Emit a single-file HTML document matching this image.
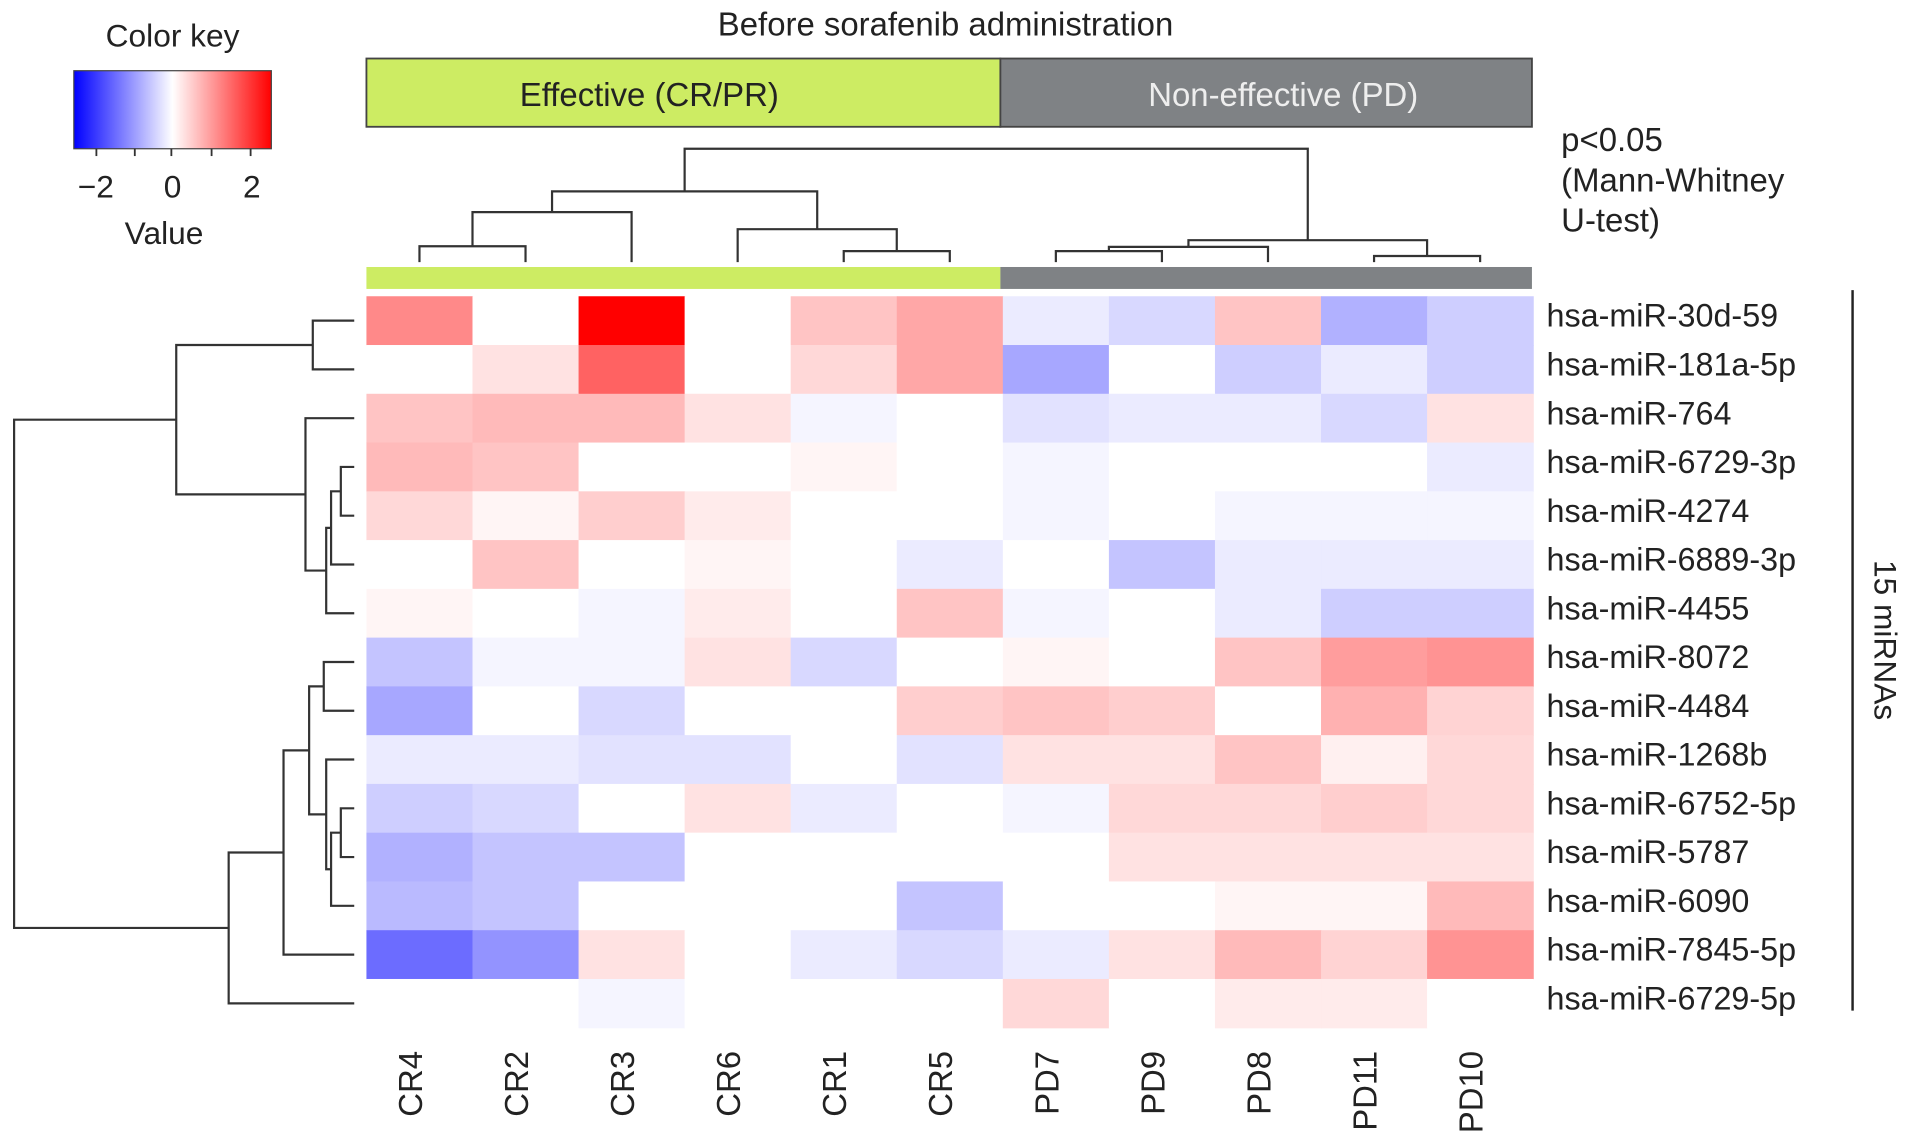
<!DOCTYPE html>
<html><head><meta charset="utf-8"><style>
html,body{margin:0;padding:0;background:#fff;}
svg{display:block;font-family:"Liberation Sans",Arial,sans-serif;}
</style></head><body>
<svg id="chart" width="1913" height="1146" viewBox="0 0 1568 940" xmlns="http://www.w3.org/2000/svg">
<defs><linearGradient id="kg" x1="0" x2="1" y1="0" y2="0">
<stop offset="0" stop-color="#0000ff"/><stop offset="0.5" stop-color="#ffffff"/><stop offset="1" stop-color="#ff0000"/></linearGradient></defs>
<g>
<text x="141" y="38" font-size="26" text-anchor="middle" fill="#222">Color key</text>
<rect x="60" y="58" width="162" height="64" fill="url(#kg)" stroke="#444" stroke-width="1"/>
<g stroke="#333" stroke-width="1.5"><line x1="78.5" y1="122" x2="78.5" y2="128"/><line x1="110" y1="122" x2="110" y2="128"/><line x1="140" y1="122" x2="140" y2="128"/><line x1="173" y1="122" x2="173" y2="128"/><line x1="205" y1="122" x2="205" y2="128"/></g>
<text x="78" y="162" font-size="26" text-anchor="middle" fill="#222">−2</text>
<text x="141" y="162" font-size="26" text-anchor="middle" fill="#222">0</text>
<text x="206" y="162" font-size="26" text-anchor="middle" fill="#222">2</text>
<text x="134" y="200" font-size="26" text-anchor="middle" fill="#222">Value</text>
</g>
<text x="775" y="29" font-size="27" text-anchor="middle" fill="#222">Before sorafenib administration</text>
<rect x="300" y="48" width="520" height="56" fill="#cdec63" stroke="#444" stroke-width="1.5"/>
<rect x="820" y="48" width="436" height="56" fill="#7f8285" stroke="#444" stroke-width="1.5"/>
<text x="532" y="87" font-size="27" text-anchor="middle" fill="#222">Effective (CR/PR)</text>
<text x="1052" y="87" font-size="27" text-anchor="middle" fill="#eee">Non-effective (PD)</text>
<g font-size="27" fill="#222">
<text x="1280" y="124">p&lt;0.05</text><text x="1280" y="157">(Mann-Whitney</text><text x="1280" y="190">U-test)</text></g>
<rect x="300" y="219" width="520" height="18" fill="#cdec63"/>
<rect x="820" y="219" width="436" height="18" fill="#7f8285"/>
<g id="cells"></g>
<g id="dendro" stroke="#333" stroke-width="1.8" fill="none"></g>
<g id="labels"></g>
<line x1="1519" y1="238" x2="1519" y2="829" stroke="#222" stroke-width="2"/>
<text transform="translate(1537,525) rotate(90)" font-size="26" text-anchor="middle" fill="#222">15 miRNAs</text>
</svg>
<script>
const samples=["CR4","CR2","CR3","CR6","CR1","CR5","PD7","PD9","PD8","PD11","PD10"];
const mirnas=["hsa-miR-30d-59","hsa-miR-181a-5p","hsa-miR-764","hsa-miR-6729-3p","hsa-miR-4274","hsa-miR-6889-3p","hsa-miR-4455","hsa-miR-8072","hsa-miR-4484","hsa-miR-1268b","hsa-miR-6752-5p","hsa-miR-5787","hsa-miR-6090","hsa-miR-7845-5p","hsa-miR-6729-5p"];
const values=[
[1.2,0,2.6,0,0.6,0.9,-0.2,-0.4,0.6,-0.8,-0.5],
[0,0.3,1.6,0,0.4,0.9,-0.9,0,-0.5,-0.2,-0.5],
[0.6,0.7,0.7,0.3,-0.1,0,-0.3,-0.2,-0.2,-0.4,0.3],
[0.7,0.6,0,0,0.1,0,-0.1,0,0,0,-0.2],
[0.4,0.1,0.5,0.2,0,0,-0.1,0,-0.1,-0.1,-0.1],
[0,0.6,0,0.1,0,-0.2,0,-0.6,-0.2,-0.2,-0.2],
[0.1,0,-0.1,0.2,0,0.6,-0.1,0,-0.2,-0.5,-0.5],
[-0.6,-0.1,-0.1,0.3,-0.4,0,0.1,0,0.6,1.0,1.1],
[-0.9,0,-0.4,0,0,0.5,0.6,0.5,0,0.8,0.45],
[-0.2,-0.2,-0.3,-0.3,0,-0.3,0.3,0.3,0.6,0.15,0.4],
[-0.5,-0.4,0,0.3,-0.2,0,-0.1,0.4,0.4,0.5,0.4],
[-0.8,-0.6,-0.6,0,0,0,0,0.3,0.3,0.3,0.3],
[-0.7,-0.6,0,0,0,-0.6,0,0,0.1,0.1,0.7],
[-1.5,-1.1,0.3,0,-0.2,-0.4,-0.2,0.3,0.7,0.45,1.1],
[0,0,-0.1,0,0,0,0.4,0,0.2,0.2,0]];
const NS="http://www.w3.org/2000/svg";
const X0=300,CW=87,Y0=243,RH=40,VMAX=2.6;
const xPos=i=>X0+CW*i, yPos=j=>Y0+RH*j;
function col(v){const t=Math.min(1,Math.abs(v)/VMAX);const c=Math.round(255*(1-t));return v>=0?`rgb(255,${c},${c})`:`rgb(${c},${c},255)`;}
const cellsG=document.getElementById('cells');
values.forEach((row,j)=>row.forEach((v,i)=>{
 const r=document.createElementNS(NS,'rect');
 r.setAttribute('x',xPos(i));r.setAttribute('y',yPos(j));r.setAttribute('width',CW+0.5);r.setAttribute('height',RH+0.5);
 r.setAttribute('fill',col(v));
 
 
 cellsG.appendChild(r);}));
const labelsG=document.getElementById('labels');
mirnas.forEach((m,j)=>{const t=document.createElementNS(NS,'text');
 t.setAttribute('x',1268);t.setAttribute('y',yPos(j)+RH/2+5);t.setAttribute('font-size','26.5');t.setAttribute('fill','#222');
 t.textContent=m;
 
 
 labelsG.appendChild(t);});
samples.forEach((s,i)=>{const t=document.createElementNS(NS,'text');
 const lx=xPos(i)+CW/2+2;
 t.setAttribute('transform',`translate(${lx},862) rotate(-90)`);t.setAttribute('font-size','27');t.setAttribute('fill','#222');t.setAttribute('text-anchor','end');
 t.textContent=s;
 
 
 labelsG.appendChild(t);});
const dg=document.getElementById('dendro');
function addPath(d,name){const p=document.createElementNS(NS,'path');p.setAttribute('d',d);
 
 
 dg.appendChild(p);}
const ccx=i=>xPos(i)+CW/2, rcy=j=>yPos(j)+RH/2;
function cmerge(ax,ay,bx,by,m){addPath(`M${ax},${ay}V${m}H${bx}V${by}`,'column-dendrogram-branch');return [(ax+bx)/2,m];}
const LV=215;
const ca=cmerge(ccx(0),LV,ccx(1),LV,202);
const cb=cmerge(ca[0],ca[1],ccx(2),LV,174);
const cc=cmerge(ccx(4),LV,ccx(5),LV,206);
const cd=cmerge(ccx(3),LV,cc[0],cc[1],188);
const cLeft=cmerge(cb[0],cb[1],cd[0],cd[1],157);
const ce=cmerge(ccx(6),LV,ccx(7),LV,206);
const cf=cmerge(ce[0],ce[1],ccx(8),LV,202.5);
const cg=cmerge(ccx(9),LV,ccx(10),LV,210);
const cRight=cmerge(cf[0],cf[1],cg[0],cg[1],197);
cmerge(cLeft[0],cLeft[1],cRight[0],cRight[1],122);
function rmerge(ay,ax,by,bx,m){addPath(`M${ax},${ay}H${m}V${by}H${bx}`,'row-dendrogram-branch');return [(ay+by)/2,m];}
const RV=290;
const ra=rmerge(rcy(0),RV,rcy(1),RV,256);
const rb=rmerge(rcy(3),RV,rcy(4),RV,279);
const rc=rmerge(rb[0],rb[1],rcy(5),RV,271);
const rd=rmerge(rc[0],rc[1],rcy(6),RV,267);
const re=rmerge(rcy(2),RV,rd[0],rd[1],250);
const rTopCluster=rmerge(ra[0],ra[1],re[0],re[1],144);
const s1=rmerge(rcy(7),RV,rcy(8),RV,265);
const s2=rmerge(rcy(10),RV,rcy(11),RV,279);
const s3=rmerge(s2[0],s2[1],rcy(12),RV,271);
const s4=rmerge(rcy(9),RV,s3[0],s3[1],267);
const s5=rmerge(s1[0],s1[1],s4[0],s4[1],253);
const s6=rmerge(s5[0],s5[1],rcy(13),RV,232);
const s7=rmerge(s6[0],s6[1],rcy(14),RV,187);
rmerge(rTopCluster[0],rTopCluster[1],s7[0],s7[1],11);
</script>
</body></html>
